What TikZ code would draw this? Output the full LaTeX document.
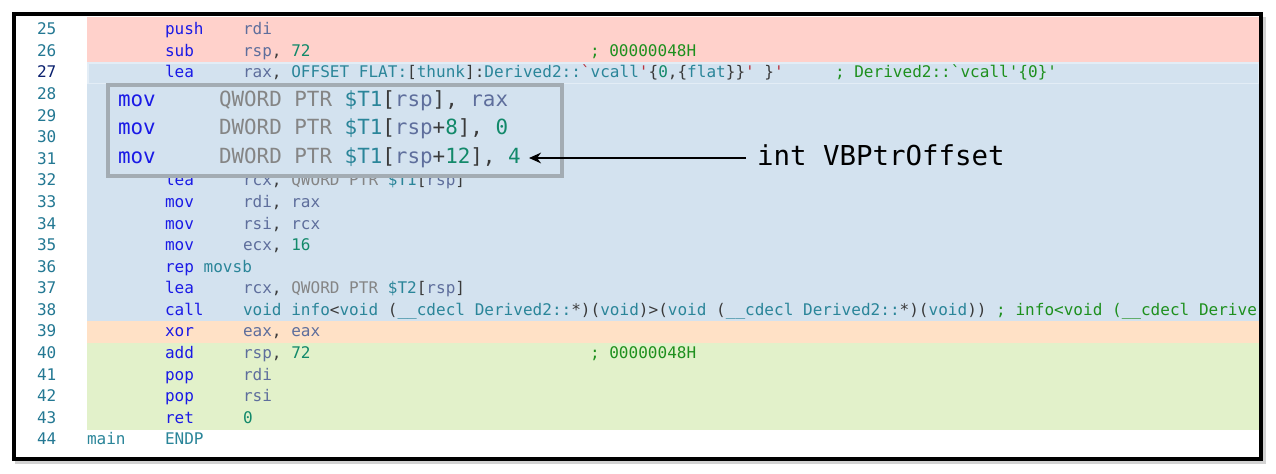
\documentclass[tikz,border=0pt]{standalone}
\usepackage{fontspec}
\setmonofont{DejaVu Sans Mono}
\usetikzlibrary{arrows.meta}
\definecolor{bandred}{HTML}{FFD1CB}
\definecolor{bandblue}{HTML}{D3E2EF}
\definecolor{bandor}{HTML}{FFE1C6}
\definecolor{bandgr}{HTML}{E2F1CA}
\definecolor{curline}{HTML}{E3EDF6}
\definecolor{boxgray}{HTML}{A3ACB3}
\definecolor{kwc}{HTML}{1A1AE6}
\definecolor{regc}{HTML}{5E6E9C}
\definecolor{numc}{HTML}{12896A}
\definecolor{tyc}{HTML}{2A8599}
\definecolor{grc}{HTML}{858585}
\definecolor{puc}{HTML}{3A3A3A}
\definecolor{cmc}{HTML}{1E901E}
\definecolor{stc}{HTML}{B8343F}
\definecolor{lnc}{HTML}{237893}
\definecolor{lnact}{HTML}{0B216F}
\newcommand\ckw[1]{\textcolor{kwc}{#1}}
\newcommand\creg[1]{\textcolor{regc}{#1}}
\newcommand\cnum[1]{\textcolor{numc}{#1}}
\newcommand\cty[1]{\textcolor{tyc}{#1}}
\newcommand\cgr[1]{\textcolor{grc}{#1}}
\newcommand\ccm[1]{\textcolor{cmc}{#1}}
\newcommand\cst[1]{\textcolor{stc}{#1}}
\newcommand\codefont{\ttfamily\fontsize{12.03pt}{14pt}\selectfont}
\newcommand\bigcodefont{\ttfamily\fontsize{15.66pt}{18pt}\selectfont}
\newcommand\lblfont{\ttfamily\fontsize{20.56pt}{24pt}\selectfont}
\tikzset{
  code/.style={anchor=base west, inner sep=0pt, outer sep=0pt, font=\codefont, text=puc},
  lnum/.style={code, text=lnc},
  kwnode/.style={code, text=kwc},
  bigcode/.style={anchor=base west, inner sep=0pt, outer sep=0pt, font=\bigcodefont, text=puc},
  overlaybox/.style={draw=boxgray, line width=3pt, fill=bandblue},
  pointer/.style={draw=black, line width=1.5pt, -{Stealth[length=9pt,width=8pt]}},
  frame/.style={draw=black, line width=3pt},
}
\begin{document}
\begin{tikzpicture}[x=0.75pt, y=-0.75pt]
\useasboundingbox (0,0) rectangle (1276,474);
% shadow and white page
\fill[gray!35] (15,17) rectangle (1266,464);
\fill[white] (13.5,14.5) rectangle (1260.5,458.5);
% bands
\fill[bandred] (87,17) rectangle (1258.5,62.5);
\fill[bandblue] (87,62.5) rectangle (1258.5,321);
\fill[bandor] (87,321) rectangle (1258.5,342.5);
\fill[bandgr] (87,342.5) rectangle (1258.5,430);
\draw[curline, line width=1.2pt] (88,63.3) rectangle (1258.5,83.5);
% line numbers
\foreach \n in {25,26,28,29,30,31,32,33,34,35,36,37,38,39,40,41,42,43,44}
  \node[lnum] (ln\n) at (37,{34.8+(\n-25)*21.58}) {\n};
\node[lnum, text=lnact] (ln27) at (37,78.0) {27};
% code
\begin{scope}
\clip (87,17) rectangle (1258.5,456);
\node[kwnode] (k25) at (165,34.8) {push};
\node[code] (o25) at (243,34.8) {\creg{rdi}};
\node[kwnode] (k26) at (165,56.4) {sub};
\node[code] (o26) at (243,56.4) {\creg{rsp}, \cnum{72}};
\node[code] (c26) at (590,56.4) {\ccm{; 00000048H}};
\node[kwnode] (k27) at (165,78.0) {lea};
\node[code] (o27) at (243,78.0) {\creg{rax}, \cty{OFFSET FLAT:}[\cty{thunk}]:\cty{Derived2::}\cst{`}\cty{vcall}\cst{'}\{\cnum{0},\{\cty{flat}\}\}\cst{'} \}\cst{'}};
\node[code] (c27) at (835,78.0) {\ccm{; Derived2::`vcall'\{0\}'}};
\node[kwnode] (k32) at (165,185.9) {lea};
\node[code] (o32) at (243,185.9) {\creg{rcx}, \cgr{QWORD PTR} \cty{\$T1}[\creg{rsp}]};
\node[kwnode] (k33) at (165,207.4) {mov};
\node[code] (o33) at (243,207.4) {\creg{rdi}, \creg{rax}};
\node[kwnode] (k34) at (165,229.0) {mov};
\node[code] (o34) at (243,229.0) {\creg{rsi}, \creg{rcx}};
\node[kwnode] (k35) at (165,250.6) {mov};
\node[code] (o35) at (243,250.6) {\creg{ecx}, \cnum{16}};
\node[kwnode] (k36) at (165,272.2) {rep \cty{movsb}};
\node[kwnode] (k37) at (165,293.8) {lea};
\node[code] (o37) at (243,293.8) {\creg{rcx}, \cgr{QWORD PTR} \cty{\$T2}[\creg{rsp}]};
\node[kwnode] (k38) at (165,315.3) {call};
\node[code] (o38) at (243,315.3) {\cty{void} \cty{info}<\cty{void} (\cty{\_\_cdecl} \cty{Derived2::}*)(\cty{void})>(\cty{void} (\cty{\_\_cdecl} \cty{Derived2::}*)(\cty{void})) \ccm{; info<void (\_\_cdecl Derive}};
\node[kwnode] (k39) at (165,336.9) {xor};
\node[code] (o39) at (243,336.9) {\creg{eax}, \creg{eax}};
\node[kwnode] (k40) at (165,358.5) {add};
\node[code] (o40) at (243,358.5) {\creg{rsp}, \cnum{72}};
\node[code] (c40) at (590,358.5) {\ccm{; 00000048H}};
\node[kwnode] (k41) at (165,380.1) {pop};
\node[code] (o41) at (243,380.1) {\creg{rdi}};
\node[kwnode] (k42) at (165,401.7) {pop};
\node[code] (o42) at (243,401.7) {\creg{rsi}};
\node[kwnode] (k43) at (165,423.2) {ret};
\node[code] (o43) at (243,423.2) {\cnum{0}};
\node[code, text=tyc] (m44) at (87,444.8) {main};
\node[code, text=tyc] (e44) at (165,444.8) {ENDP};
\end{scope}
% overlay box
\draw[overlaybox] (108,85) rectangle (562,176);
\node[bigcode, text=kwc] (bm1) at (118,106.5) {mov};
\node[bigcode] (bo1) at (219,106.5) {\cgr{QWORD PTR} \cty{\$T1}[\creg{rsp}], \creg{rax}};
\node[bigcode, text=kwc] (bm2) at (118,135) {mov};
\node[bigcode] (bo2) at (219,135) {\cgr{DWORD PTR} \cty{\$T1}[\creg{rsp}+\cnum{8}], \cnum{0}};
\node[bigcode, text=kwc] (bm3) at (118,163.5) {mov};
\node[bigcode] (bo3) at (219,163.5) {\cgr{DWORD PTR} \cty{\$T1}[\creg{rsp}+\cnum{12}], \cnum{4}};
% annotation
\coordinate (tip) at (529,158);
\node[anchor=base west, inner sep=0pt, outer sep=0pt, font=\lblfont, text=black] (lbl) at (757,166) {int VBPtrOffset};
\draw[pointer, shorten <=8.25pt] (lbl.west |- tip) -- (tip);
% frame
\draw[frame] (13.5,14.5) rectangle (1260.5,458.5);
\end{tikzpicture}
\end{document}
